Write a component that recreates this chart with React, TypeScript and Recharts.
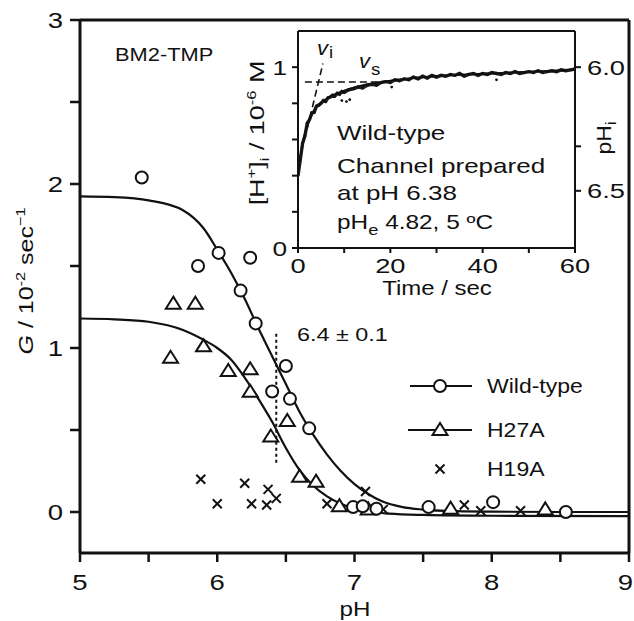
import React from 'react';
import { ComposedChart, Line, Scatter, XAxis, YAxis, ReferenceLine } from 'recharts';

// main plot: conductance G (10^-2 s^-1) vs pH
const wtPoints: [number, number][] = [
  [5.45, 2.04], [5.86, 1.5], [6.01, 1.58], [6.17, 1.35], [6.24, 1.55], [6.28, 1.15],
  [6.4, 0.735], [6.5, 0.89], [6.53, 0.69], [6.67, 0.51], [6.99, 0.03], [7.06, 0.035],
  [7.16, 0.02], [7.54, 0.03], [8.01, 0.06], [8.54, 0.0],
];
const h27aPoints: [number, number][] = [
  [5.66, 0.94], [5.68, 1.27], [5.84, 1.27], [5.9, 1.01], [6.08, 0.86], [6.24, 0.87],
  [6.24, 0.733], [6.39, 0.46], [6.51, 0.555], [6.6, 0.215], [6.72, 0.185], [6.89, 0.035],
  [7.1, 0.016], [7.7, 0.02], [8.39, 0.016],
];
const h19aPoints: [number, number][] = [
  [5.88, 0.2], [6.0, 0.05], [6.2, 0.175], [6.25, 0.05], [6.36, 0.043], [6.37, 0.138],
  [6.43, 0.083], [6.8, 0.05], [7.08, 0.125], [7.21, 0.016], [7.8, 0.043], [7.92, 0.008],
  [8.21, 0.008],
];
const wtFit: [number, number][] = [
  [5, 1.925], [5.25, 1.92], [5.5, 1.9], [5.75, 1.84], [5.9, 1.73], [6.0, 1.6], [6.1, 1.46],
  [6.2, 1.3], [6.3, 1.12], [6.4, 0.95], [6.5, 0.78], [6.6, 0.61], [6.7, 0.47], [6.8, 0.35],
  [6.9, 0.25], [7.0, 0.17], [7.1, 0.11], [7.2, 0.065], [7.35, 0.03], [7.5, 0.015],
  [7.75, 0.005], [8, 0.002], [8.5, 0], [9, 0],
];
const h27aFit: [number, number][] = [
  [5, 1.18], [5.25, 1.175], [5.5, 1.16], [5.75, 1.11], [5.9, 1.05], [6.0, 1.0], [6.1, 0.93],
  [6.2, 0.82], [6.3, 0.69], [6.4, 0.55], [6.5, 0.39], [6.6, 0.255], [6.7, 0.16], [6.8, 0.095],
  [6.9, 0.05], [7.0, 0.02], [7.1, 0.003], [7.25, -0.01], [7.5, -0.018], [8, -0.023], [9, -0.025],
];
const pKa = 6.43;
const pKaSpan = [0.3, 1.1];
const phTicks = [5, 5.5, 6, 6.5, 7, 7.5, 8, 8.5, 9];
const gTicks = [0, 0.5, 1, 1.5, 2, 2.5, 3];

// inset: [H+]i (10^-6 M) vs time (s)
const traceT = [
  0, 0.5, 1, 1.5, 2, 2.5, 3, 3.5, 4, 4.5, 5, 5.5, 6, 6.5, 7, 7.5, 8, 8.5, 9, 9.5, 10,
  11, 12, 13, 14, 15, 16, 17, 18, 19, 20, 21, 22, 23, 24, 25, 26, 27, 28, 29, 30,
  31, 32, 33, 34, 35, 36, 37, 38, 39, 40, 41, 42, 43, 44, 45, 46, 47, 48, 49, 50,
  51, 52, 53, 54, 55, 56, 57, 58, 59, 60,
];
const traceH = [
  0.4, 0.49, 0.58, 0.62, 0.69, 0.71, 0.745, 0.75, 0.785, 0.79, 0.8, 0.815, 0.81, 0.83, 0.835,
  0.845, 0.84, 0.855, 0.85, 0.865, 0.86,
  0.875, 0.88, 0.89, 0.885, 0.9, 0.905, 0.9, 0.915, 0.92, 0.915, 0.93, 0.925, 0.935, 0.93,
  0.945, 0.935, 0.95, 0.94, 0.955, 0.945, 0.955, 0.95, 0.96, 0.955, 0.965, 0.95, 0.96, 0.965,
  0.955, 0.965, 0.96, 0.97, 0.965, 0.96, 0.97, 0.965, 0.975, 0.965, 0.97, 0.975, 0.97, 0.98,
  0.97, 0.975, 0.98, 0.975, 0.985, 0.98, 0.985, 0.99,
];
const strayDots: [number, number][] = [[9.5, 0.815], [10.5, 0.81], [11.2, 0.82], [20.3, 0.89], [43, 0.93]];
const traceFit: [number, number][] = [
  [0, 0.4], [0.5, 0.5], [1, 0.57], [1.5, 0.63], [2, 0.675], [3, 0.74], [4, 0.78], [5, 0.805],
  [6, 0.822], [8, 0.85], [10, 0.87], [12, 0.886], [15, 0.905], [20, 0.925], [25, 0.94],
  [30, 0.95], [40, 0.963], [50, 0.974], [60, 0.985],
];
const vsLine = { from: 1.5, to: 19, level: 0.918 };
const viLine: [number, number][] = [[2.0, 0.66], [5.4, 1.02]];
const timeTicks = [0, 10, 20, 30, 40, 50, 60];
const hTicks = [0, 0.2, 0.4, 0.6, 0.8, 1.0];
const phiLabels = [6.0, 6.25, 6.5];
const phiShown = ['6.0', '', '6.5'];
const phiPos = phiLabels.map((ph) => Math.pow(10, 6 - ph)); // [H+] in 10^-6 M

const FONT = '"Liberation Sans", Arial, Helvetica, sans-serif';
const INK = '#111';

const toXY = (arr: [number, number][]) => arr.map(([pH, G]) => ({ pH, G }));
const toTH = (arr: [number, number][]) => arr.map(([t, H]) => ({ t, H }));
const traceData = traceT.map((t, i) => ({ t, H: traceH[i] }));

function WText({ x, y, size = 20, sx = 1.2, anchor = 'start', rotate = 0, dy, italic, children }: any) {
  return (
    <g transform={`translate(${x},${y}) rotate(${rotate}) scale(${sx},1)`}>
      <text x={0} y={0} dy={dy} fontSize={size} fontFamily={FONT} textAnchor={anchor} fill={INK}
        fontStyle={italic ? 'italic' : 'normal'}>
        {children}
      </text>
    </g>
  );
}

const circleShape = (p: any) => <circle cx={p.cx} cy={p.cy} r={6} fill="#fff" stroke={INK} strokeWidth={2} />;
const triShape = (p: any) => (
  <polygon points={`${p.cx},${p.cy - 7} ${p.cx - 7.5},${p.cy + 5} ${p.cx + 7.5},${p.cy + 5}`}
    fill="#fff" stroke={INK} strokeWidth={2} strokeLinejoin="miter" />
);
const crossShape = (p: any) => (
  <g stroke={INK} strokeWidth={2}>
    <line x1={p.cx - 4.5} y1={p.cy - 4.5} x2={p.cx + 4.5} y2={p.cy + 4.5} />
    <line x1={p.cx - 4.5} y1={p.cy + 4.5} x2={p.cx + 4.5} y2={p.cy - 4.5} />
  </g>
);
const dotShape = (p: any) => <circle cx={p.cx} cy={p.cy} r={1.4} fill={INK} />;

const mainXTick = (p: any) => {
  const v = p.payload.value;
  if (!Number.isInteger(v)) return <g />;
  // last label sits on the page edge, keep it inside
  if (v === 9) return <WText x={p.x + 4} y={p.y} dy="0.72em" anchor="end" size={22} sx={1.25}>{v}</WText>;
  return <WText x={p.x} y={p.y} dy="0.72em" anchor="middle" size={22} sx={1.25}>{v}</WText>;
};
const mainYTick = (p: any) => {
  const v = p.payload.value;
  if (!Number.isInteger(v)) return <g />;
  return <WText x={p.x} y={p.y} dy="0.36em" anchor="end" size={22} sx={1.25}>{v}</WText>;
};
const insetXTick = (p: any) => {
  const v = p.payload.value;
  if (v % 20 !== 0) return <g />;
  return <WText x={p.x} y={p.y} dy="0.72em" anchor="middle" size={21} sx={1.3}>{v}</WText>;
};
const insetYTick = (p: any) => {
  const v = p.payload.value;
  if (!Number.isInteger(v)) return <g />;
  return <WText x={p.x} y={p.y} dy="0.36em" anchor="end" size={21} sx={1.25}>{v}</WText>;
};
const insetPhTick = (p: any) => {
  const label = phiShown[p.index] ?? '';
  if (!label) return <g />;
  return <WText x={p.x} y={p.y} dy="0.36em" anchor="start" size={21} sx={1.3}>{label}</WText>;
};

const axisMain = { stroke: INK, strokeWidth: 3 };
const tickMain = { stroke: INK, strokeWidth: 2.5 };
const axisInset = { stroke: INK, strokeWidth: 2 };

export default function App() {
  return (
    <div style={{ position: 'absolute', left: 0, top: 0, width: 634, height: 621, background: '#fff' }}>
      <div style={{ position: 'absolute', left: 0, top: 0 }}>
        <ComposedChart width={634} height={621} margin={{ top: 20, right: 5, left: 20, bottom: 18 }}>
          <XAxis type="number" dataKey="pH" domain={[5, 9]} ticks={phTicks} interval={0} allowDataOverflow
            height={50} tickSize={9} tickMargin={12} axisLine={axisMain} tickLine={tickMain} tick={mainXTick} />
          <YAxis type="number" dataKey="G" domain={[-0.25, 3]} ticks={gTicks} interval={0} allowDataOverflow
            width={60} tickSize={10} tickMargin={7} axisLine={axisMain} tickLine={tickMain} tick={mainYTick} />
          <ReferenceLine y={3} stroke={INK} strokeWidth={3} />
          <ReferenceLine x={9} stroke={INK} strokeWidth={3} />
          <ReferenceLine segment={[{ x: pKa, y: pKaSpan[0] }, { x: pKa, y: pKaSpan[1] }]}
            stroke={INK} strokeWidth={2} strokeDasharray="3 3" />
          <Line data={toXY(wtFit)} dataKey="G" type="monotone" dot={false} stroke={INK} strokeWidth={2.2} isAnimationActive={false} />
          <Line data={toXY(h27aFit)} dataKey="G" type="monotone" dot={false} stroke={INK} strokeWidth={2.2} isAnimationActive={false} />
          <Scatter data={toXY(h19aPoints)} shape={crossShape} isAnimationActive={false} />
          <Scatter data={toXY(h27aPoints)} shape={triShape} isAnimationActive={false} />
          <Scatter data={toXY(wtPoints)} shape={circleShape} isAnimationActive={false} />
        </ComposedChart>
      </div>

      <div style={{ position: 'absolute', left: 240, top: 25 }}>
        <ComposedChart width={392} height={290} margin={{ top: 6, right: 17, left: 18, bottom: 22 }}>
          <XAxis type="number" dataKey="t" domain={[0, 60]} ticks={timeTicks} interval={0} allowDataOverflow
            height={45} tickSize={5} tickMargin={5} axisLine={axisInset} tickLine={axisInset} tick={insetXTick} />
          <YAxis yAxisId="h" type="number" dataKey="H" domain={[0, 1.2]} ticks={hTicks} interval={0} allowDataOverflow
            width={40} tickSize={6} tickMargin={5} axisLine={axisInset} tickLine={axisInset} tick={insetYTick} />
          <YAxis yAxisId="ph" orientation="right" type="number" domain={[0, 1.2]} ticks={phiPos} interval={0} allowDataOverflow
            width={40} tickSize={6} tickMargin={6} axisLine={axisInset} tickLine={axisInset} tick={insetPhTick} />
          <ReferenceLine yAxisId="h" y={1.2} stroke={INK} strokeWidth={2} />
          <Line yAxisId="h" data={traceData} dataKey="H" type="linear" dot={false}
            stroke="#222" strokeWidth={3.4} isAnimationActive={false} />
          <Scatter yAxisId="h" data={traceData} shape={dotShape} isAnimationActive={false} />
          <Scatter yAxisId="h" data={toTH(strayDots)} shape={dotShape} isAnimationActive={false} />
          <Line yAxisId="h" data={toTH(traceFit)} dataKey="H" type="monotone" dot={false}
            stroke={INK} strokeWidth={2} isAnimationActive={false} />
          <ReferenceLine yAxisId="h" segment={[{ x: vsLine.from, y: vsLine.level }, { x: vsLine.to, y: vsLine.level }]}
            stroke={INK} strokeWidth={1.6} strokeDasharray="7 4" />
          <ReferenceLine yAxisId="h" segment={[{ x: viLine[0][0], y: viLine[0][1] }, { x: viLine[1][0], y: viLine[1][1] }]}
            stroke={INK} strokeWidth={1.6} strokeDasharray="7 4" />
        </ComposedChart>
      </div>

      <svg width={634} height={621} style={{ position: 'absolute', left: 0, top: 0, pointerEvents: 'none' }}>
        {/* main titles */}
        <WText x={115} y={61} size={19} sx={1.15}>BM2-TMP</WText>
        <WText x={297} y={341} size={18} sx={1.3}>6.4 ± 0.1</WText>
        <WText x={355} y={616} size={21} sx={1.15} anchor="middle">pH</WText>
        <WText x={33} y={281} size={20} sx={1.25} anchor="middle" rotate={-90}>
          <tspan fontStyle="italic">G</tspan> / 10<tspan dy={-8} fontSize={13}>-2</tspan>
          <tspan dy={8}> sec</tspan><tspan dy={-8} fontSize={13}>−1</tspan>
        </WText>

        {/* legend */}
        <g>
          <line x1={410} y1={386} x2={472} y2={386} stroke={INK} strokeWidth={2.2} />
          {circleShape({ cx: 440, cy: 386 })}
          <WText x={487} y={393} size={20} sx={1.15}>Wild-type</WText>
          <line x1={408} y1={430} x2={472} y2={430} stroke={INK} strokeWidth={2.2} />
          {triShape({ cx: 440, cy: 430 })}
          <WText x={487} y={437} size={20} sx={1.15}>H27A</WText>
          {crossShape({ cx: 440, cy: 469 })}
          <WText x={487} y={476} size={20} sx={1.15}>H19A</WText>
        </g>

        {/* inset titles */}
        <WText x={437} y={295} size={20} sx={1.2} anchor="middle">Time / sec</WText>
        <WText x={264} y={133} size={21} sx={1.28} anchor="middle" rotate={-90}>
          [H<tspan dy={-8} fontSize={13}>+</tspan><tspan dy={8}>]</tspan><tspan dy={5} fontSize={13}>i</tspan>
          <tspan dy={-5}> / 10</tspan><tspan dy={-8} fontSize={13}>-6</tspan><tspan dy={8}> M</tspan>
        </WText>
        <WText x={611} y={138} size={20} sx={1.15} anchor="middle" rotate={-90}>
          pH<tspan dy={5} fontSize={14}>i</tspan>
        </WText>

        {/* inset annotations */}
        <WText x={317} y={55} size={20} sx={1.1} italic>v</WText>
        <WText x={329} y={58} size={17} sx={1.1}>i</WText>
        <WText x={359} y={68} size={20} sx={1.1} italic>v</WText>
        <WText x={371} y={75} size={17} sx={1.1}>s</WText>
        <WText x={337} y={140} size={20} sx={1.3}>Wild-type</WText>
        <WText x={337} y={173} size={20} sx={1.3}>Channel prepared</WText>
        <WText x={337} y={200} size={20} sx={1.3}>at pH 6.38</WText>
        <WText x={337} y={229} size={20} sx={1.22}>
          pH<tspan dy={6} fontSize={15}>e</tspan><tspan dy={-6}> 4.82, 5 ºC</tspan>
        </WText>
      </svg>
    </div>
  );
}
